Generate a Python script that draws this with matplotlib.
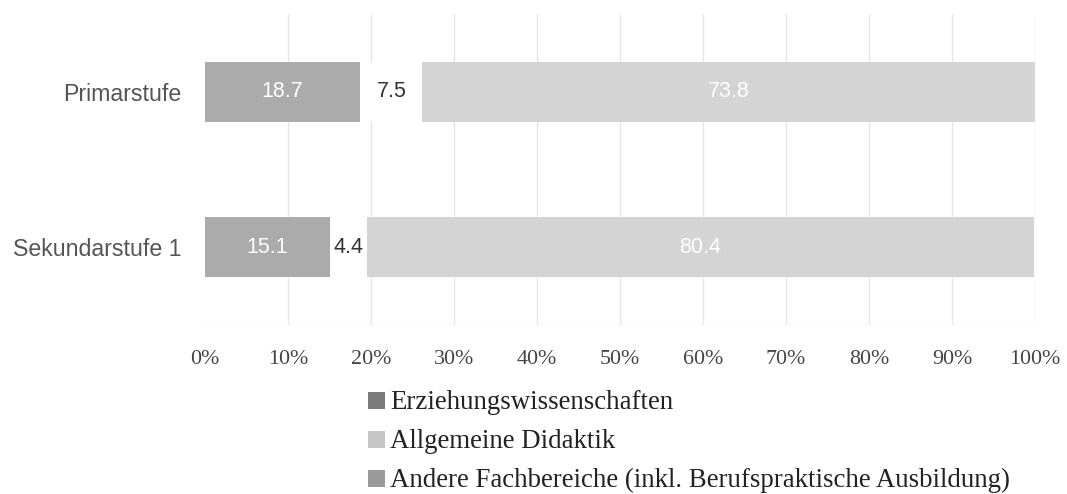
import matplotlib
matplotlib.use("Agg")
import matplotlib.pyplot as plt
from matplotlib.patches import Rectangle
import numpy as np

categories = ["Primarstufe", "Sekundarstufe 1"]
series_names = ["Erziehungswissenschaften", "Allgemeine Didaktik",
                "Andere Fachbereiche (inkl. Berufspraktische Ausbildung)"]
erziehung = [18.7, 15.1]
didaktik = [7.5, 4.4]
andere = [73.8, 80.4]
tick_values = [0, 10, 20, 30, 40, 50, 60, 70, 80, 90, 100]
tick_labels = ["0%", "10%", "20%", "30%", "40%", "50%", "60%", "70%", "80%", "90%", "100%"]

bar_colors = ["#ababab", "#ffffff", "#d4d4d4"]
label_colors = ["white", "#333333", "white"]
legend_colors = ["#7b7b7b", "#c6c6c6", "#9b9b9b"]

W, H = 1067, 494
fig = plt.figure(figsize=(W / 100, H / 100), dpi=100)
ax = fig.add_axes([205 / W, (H - 325) / H, 830 / W, 311 / H])

y = np.arange(len(categories))
left = np.zeros(len(categories))
for vals, col, lcol in zip([erziehung, didaktik, andere], bar_colors, label_colors):
    bars = ax.barh(y, vals, left=left, height=0.385, color=col, zorder=3)
    for b, v in zip(bars, vals):
        ax.text(b.get_x() + b.get_width() / 2, b.get_y() + b.get_height() / 2,
                f"{v:.1f}", ha="center", va="center", color=lcol,
                fontsize=15.5, family="Liberation Sans", zorder=4)
    left = left + np.array(vals)

ax.set_xlim(0, 100)
ax.set_ylim(1.5, -0.5)
ax.set_xticks(tick_values)
ax.set_xticklabels(tick_labels, family="Liberation Serif", fontsize=15.8, color="#444444")
ax.set_yticks(y)
ax.set_yticklabels(categories, family="Liberation Sans", fontsize=16.7, color="#555555")
ax.tick_params(axis="x", length=0, pad=18)
ax.tick_params(axis="y", length=0, pad=17)
for s in ax.spines.values():
    s.set_visible(False)
for t in tick_values[1:]:
    ax.axvline(t, color="#e6e6e6", lw=1, zorder=1)
ax.axhline(1.5, color="#e2e2e2", lw=1, zorder=1)

# legend drawn in figure pixel coordinates
baselines = [409, 448, 487]
for name, col, base in zip(series_names, legend_colors, baselines):
    fig.patches.append(Rectangle((368 / W, 1 - base / H), 17 / W, 17 / H,
                                 transform=fig.transFigure, facecolor=col,
                                 edgecolor="none"))
    fig.text(390 / W, 1 - base / H, name, ha="left", va="baseline",
             family="Liberation Serif", fontsize=19.4, color="#222222")

fig.savefig("out.png", dpi=100)
